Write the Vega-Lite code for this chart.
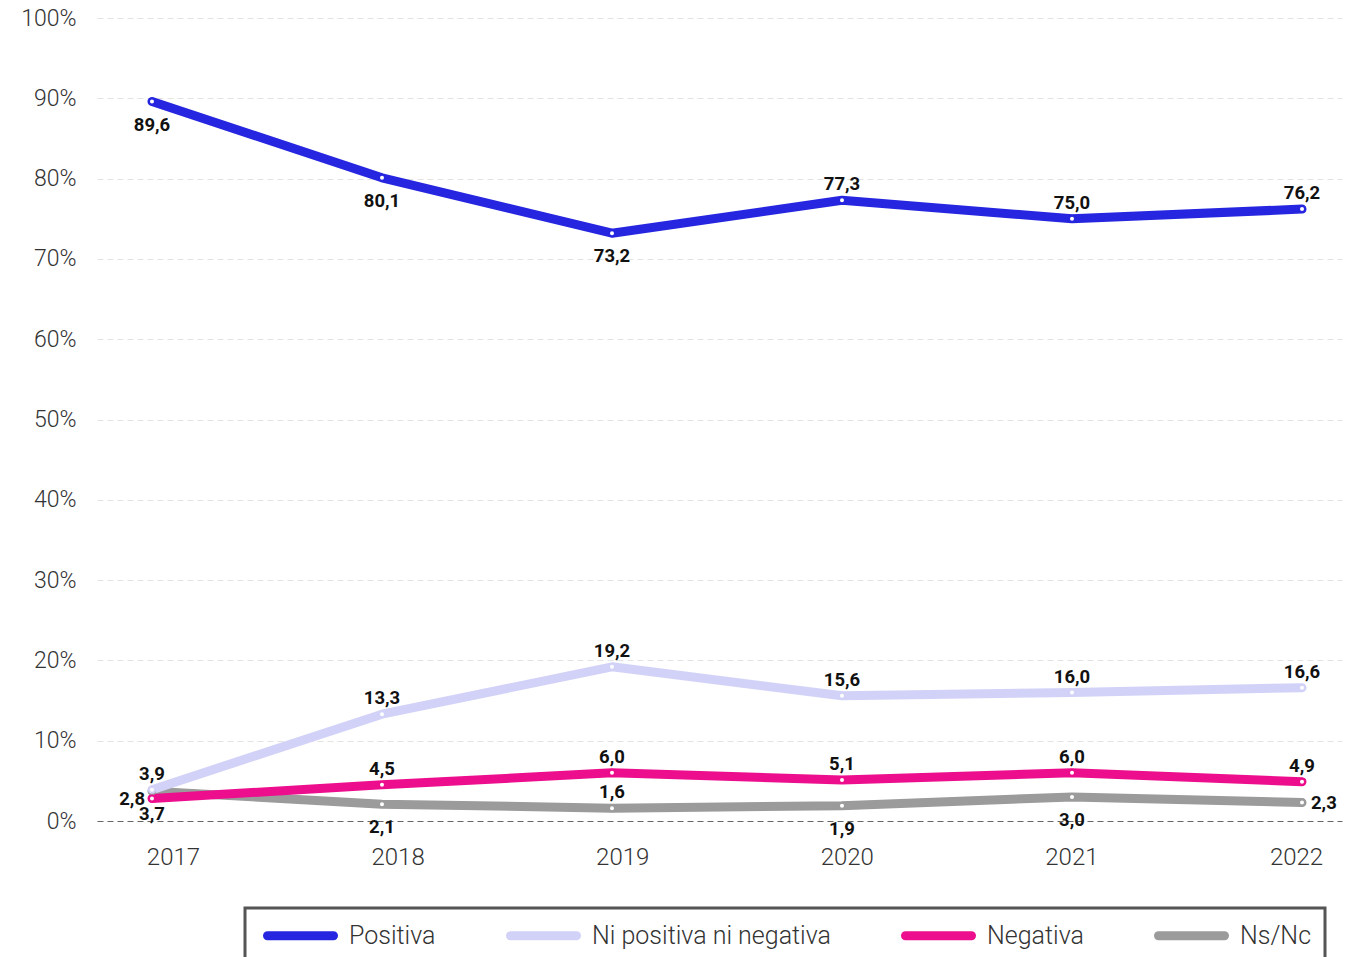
{
  "$schema": "https://vega.github.io/schema/vega-lite/v6.json",
  "width": 1245,
  "height": 803,
  "autosize": "none",
  "padding": {"left": 97, "top": 18, "right": 15, "bottom": 136},
  "background": "white",
  "config": {
    "view": {"stroke": null},
    "locale": {"number": {"decimal": ",", "thousands": ".", "grouping": [3], "currency": ["", " €"]}},
    "font": "Roboto"
  },
  "data": {
    "values": [
      {"year": "2017", "series": "Ns/Nc", "value": 3.7},
      {"year": "2018", "series": "Ns/Nc", "value": 2.1},
      {"year": "2019", "series": "Ns/Nc", "value": 1.6},
      {"year": "2020", "series": "Ns/Nc", "value": 1.9},
      {"year": "2021", "series": "Ns/Nc", "value": 3.0},
      {"year": "2022", "series": "Ns/Nc", "value": 2.3},
      {"year": "2017", "series": "Ni positiva ni negativa", "value": 3.9},
      {"year": "2018", "series": "Ni positiva ni negativa", "value": 13.3},
      {"year": "2019", "series": "Ni positiva ni negativa", "value": 19.2},
      {"year": "2020", "series": "Ni positiva ni negativa", "value": 15.6},
      {"year": "2021", "series": "Ni positiva ni negativa", "value": 16.0},
      {"year": "2022", "series": "Ni positiva ni negativa", "value": 16.6},
      {"year": "2017", "series": "Negativa", "value": 2.8},
      {"year": "2018", "series": "Negativa", "value": 4.5},
      {"year": "2019", "series": "Negativa", "value": 6.0},
      {"year": "2020", "series": "Negativa", "value": 5.1},
      {"year": "2021", "series": "Negativa", "value": 6.0},
      {"year": "2022", "series": "Negativa", "value": 4.9},
      {"year": "2017", "series": "Positiva", "value": 89.6},
      {"year": "2018", "series": "Positiva", "value": 80.1},
      {"year": "2019", "series": "Positiva", "value": 73.2},
      {"year": "2020", "series": "Positiva", "value": 77.3},
      {"year": "2021", "series": "Positiva", "value": 75.0},
      {"year": "2022", "series": "Positiva", "value": 76.2}
    ]
  },
  "resolve": {"scale": {"x": "independent"}},
  "layer": [
    {
      "mark": {"type": "point", "opacity": 0},
      "encoding": {
        "x": {
          "field": "year", "type": "ordinal",
          "scale": {"type": "point", "padding": 0.2715, "align": 0.623},
          "axis": {"orient": "bottom", "title": null, "ticks": false, "domain": false, "labelAngle": 0,
                   "labelFontSize": 24, "labelFont": "Roboto", "labelFontWeight": 300, "labelColor": "#333",
                   "labelPadding": 24, "grid": false}
        },
        "y": {
          "field": "value", "type": "quantitative",
          "scale": {"domain": [0, 100], "nice": false},
          "axis": {
            "title": null, "values": [0, 10, 20, 30, 40, 50, 60, 70, 80, 90, 100],
            "labelExpr": "datum.value + '%'",
            "labelFontSize": 23, "labelFont": "Roboto", "labelFontWeight": 300, "labelColor": "#333",
            "ticks": false, "domain": false, "labelPadding": 21,
            "grid": true,
            "gridColor": {"condition": {"test": "datum.value === 0", "value": "#666"}, "value": "#e3e3e3"},
            "gridDash": [6, 4],
            "gridWidth": {"condition": {"test": "datum.value === 0", "value": 1.2}, "value": 1}
          }
        }
      }
    },
    {
      "encoding": {
        "x": {"field": "year", "type": "ordinal", "scale": {"type": "point", "padding": 0.2065, "align": 0.579}, "axis": null},
        "y": {"field": "value", "type": "quantitative"}
      },
      "layer": [
        {
          "mark": {"type": "line", "strokeWidth": 9, "interpolate": "linear", "strokeCap": "round", "strokeJoin": "round"},
          "encoding": {
            "color": {
              "field": "series", "type": "nominal",
              "scale": {"domain": ["Positiva", "Ni positiva ni negativa", "Negativa", "Ns/Nc"],
                        "range": ["#2626e0", "#d2d2f8", "#ec0e8c", "#9b9b9b"]},
              "sort": null,
              "legend": {
                "title": null, "orient": "none", "legendX": 148, "legendY": 890,
                "direction": "horizontal", "columns": 4,
                "symbolType": "M-3.3,0L3.3,0", "symbolSize": 400, "symbolStrokeWidth": 9,
                "symbolOffset": 28, "labelOffset": 34, "labelLimit": 500,
                "labelFontSize": 25, "labelFont": "Roboto", "labelFontWeight": 300, "labelColor": "#333",
                "padding": 13, "strokeColor": "#555", "columnPadding": 56,
                "encode": {
                  "symbols": {"update": {"strokeCap": {"value": "round"}}},
                  "legend": {"update": {"strokeWidth": {"value": 3}}}
                }
              }
            }
          }
        },
        {
          "mark": {"type": "point", "filled": true, "fill": "white", "size": 36, "strokeWidth": 2, "opacity": 1},
          "encoding": {
            "stroke": {
              "field": "series", "type": "nominal",
              "scale": {"domain": ["Positiva", "Ni positiva ni negativa", "Negativa", "Ns/Nc"],
                        "range": ["#2626e0", "#d2d2f8", "#ec0e8c", "#9b9b9b"]},
              "legend": null
            }
          }
        },
        {
          "transform": [{"filter": "(datum.series === 'Positiva' && datum.year >= '2020') || datum.series === 'Ni positiva ni negativa' || (datum.series === 'Negativa' && datum.year !== '2017') || (datum.series === 'Ns/Nc' && datum.year === '2019')"}],
          "mark": {"type": "text", "dy": -16, "fontSize": 18.5, "fontWeight": "bold", "font": "Roboto", "color": "#111"},
          "encoding": {"text": {"field": "value", "type": "quantitative", "format": ".1f"}}
        },
        {
          "transform": [{"filter": "(datum.series === 'Positiva' && datum.year <= '2019') || (datum.series === 'Ns/Nc' && datum.year !== '2019' && datum.year !== '2022')"}],
          "mark": {"type": "text", "dy": 23, "fontSize": 18.5, "fontWeight": "bold", "font": "Roboto", "color": "#111"},
          "encoding": {"text": {"field": "value", "type": "quantitative", "format": ".1f"}}
        },
        {
          "transform": [{"filter": "datum.series === 'Negativa' && datum.year === '2017'"}],
          "mark": {"type": "text", "dx": -7, "align": "right", "fontSize": 18.5, "fontWeight": "bold", "font": "Roboto", "color": "#111"},
          "encoding": {"text": {"field": "value", "type": "quantitative", "format": ".1f"}}
        },
        {
          "transform": [{"filter": "datum.series === 'Ns/Nc' && datum.year === '2022'"}],
          "mark": {"type": "text", "dx": 9, "align": "left", "fontSize": 18.5, "fontWeight": "bold", "font": "Roboto", "color": "#111"},
          "encoding": {"text": {"field": "value", "type": "quantitative", "format": ".1f"}}
        }
      ]
    }
  ]
}
